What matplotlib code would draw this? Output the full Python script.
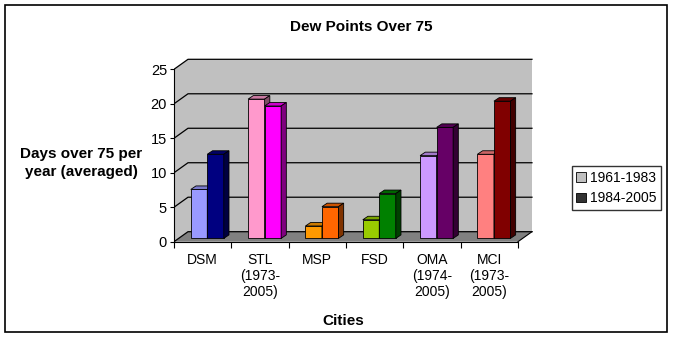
import matplotlib
matplotlib.use("Agg")
import matplotlib.pyplot as plt
from matplotlib.patches import Polygon, Rectangle, Patch
import numpy as np

plt.rcParams['font.family'] = ['Liberation Sans', 'DejaVu Sans']

# ---- data ----
categories = ["DSM", "STL\n(1973-\n2005)", "MSP", "FSD", "OMA\n(1974-\n2005)", "MCI\n(1973-\n2005)"]
series_names = ["1961-1983", "1984-2005"]
early = [7.1, 20.2, 1.8, 2.7, 12.0, 12.2]
late = [12.2, 19.2, 4.6, 6.5, 16.1, 19.9]
early_colors = ["#9999FF", "#FF99CC", "#FF9900", "#99CC00", "#CC99FF", "#FF8080"]
late_colors = ["#000080", "#FF00FF", "#FF6600", "#008000", "#660066", "#800000"]
yticks = [0, 5, 10, 15, 20, 25]

W, H = 673, 337
fig = plt.figure(figsize=(W / 100, H / 100), dpi=100)
fig.patch.set_facecolor("white")

# outer border
fig.patches.append(Rectangle((5 / W, 1 - 332 / H), 662 / W, 327 / H, transform=fig.transFigure,
                             fill=False, edgecolor="black", lw=1.2))

# axes placement (pixel mapping)
x_left_px, y_zero_px = 174.0, 241.7
px_per_cat, px_per_unit = 57.33, 6.896
xlim = (-0.5, 5.85)
ylim = (0, 27)
ax_l = x_left_px / W
ax_r = (x_left_px + (xlim[1] - xlim[0]) * px_per_cat) / W
ax_b = (H - y_zero_px) / H
ax_t = (H - (y_zero_px - ylim[1] * px_per_unit)) / H
ax = fig.add_axes([ax_l, ax_b, ax_r - ax_l, ax_t - ax_b])
ax.set_xlim(*xlim)
ax.set_ylim(*ylim)
ax.patch.set_visible(False)

n = len(categories)
x0, x1 = -0.5, n - 0.5
DX, DY = 14 / px_per_cat, 10 / px_per_unit
ymax = yticks[-1]

# walls and floor
ax.add_patch(Polygon([(x0, 0), (x0 + DX, DY), (x0 + DX, ymax + DY), (x0, ymax)],
                     closed=True, facecolor="#C0C0C0", edgecolor="none", zorder=1))
ax.add_patch(Polygon([(x0 + DX, DY), (x1 + DX, DY), (x1 + DX, ymax + DY), (x0 + DX, ymax + DY)],
                     closed=True, facecolor="#C0C0C0", edgecolor="none", zorder=1))
ax.add_patch(Polygon([(x0, 0), (x1, 0), (x1 + DX, DY), (x0 + DX, DY)],
                     closed=True, facecolor="#808080", edgecolor="none", zorder=1))
ax.plot([x1, x1 + DX], [0, DY], color="black", lw=0.8, zorder=2)
for v in yticks:
    ax.plot([x0, x0 + DX, x1 + DX], [v, v + DY, v + DY], color="black", lw=0.9, zorder=2)

# bars
f = 0.33
bw = 0.288
bdx, bdy = 5.2 / px_per_cat, 3.5 / px_per_unit
xs = np.arange(n)


def shade(c, k):
    r, g, b = matplotlib.colors.to_rgb(c)
    return (r * k, g * k, b * k)


def draw_series(xpos, vals, cols, z):
    base = f * DY
    bars = ax.bar(xpos, vals, width=bw, bottom=base, color=cols, edgecolor="black",
                  linewidth=0.6, zorder=z)
    for rect, c in zip(bars, cols):
        xl = rect.get_x()
        xr = xl + rect.get_width()
        top = rect.get_y() + rect.get_height()
        ax.add_patch(Polygon([(xl, top), (xr, top), (xr + bdx, top + bdy), (xl + bdx, top + bdy)],
                             closed=True, facecolor=shade(c, 0.8), edgecolor="black", lw=0.6, zorder=z))
        ax.add_patch(Polygon([(xr, base), (xr + bdx, base + bdy), (xr + bdx, top + bdy), (xr, top)],
                             closed=True, facecolor=shade(c, 0.5), edgecolor="black", lw=0.6, zorder=z))


draw_series(xs + f * DX - bw / 2, early, early_colors, 3)
draw_series(xs + f * DX + bw / 2, late, late_colors, 4)

# axes styling
for s in ["top", "right"]:
    ax.spines[s].set_visible(False)
ax.spines["left"].set_bounds(0, ymax)
ax.spines["bottom"].set_bounds(x0, x1)
ax.spines["left"].set_zorder(6)
ax.spines["bottom"].set_zorder(6)
ax.set_yticks(yticks)
ax.set_yticklabels([str(v) for v in yticks])
ax.tick_params(axis="y", length=3, width=0.8, pad=2, labelsize=10.5)
ax.set_xticks(np.arange(n + 1) - 0.5)
ax.set_xticklabels([])
ax.tick_params(axis="x", which="major", length=4, width=0.8)
ax.set_xticks(xs, minor=True)
ax.set_xticklabels(categories, minor=True)
ax.tick_params(axis="x", which="minor", length=0, pad=8, labelsize=10)
for lbl in ax.get_xticklabels(minor=True):
    lbl.set_linespacing(1.2)
    lbl.set_verticalalignment("top")

# texts
fig.text(361 / W, 1 - 27 / H, "Dew Points Over 75", ha="center", va="center",
         fontsize=11, fontweight="bold")
fig.text(81 / W, 1 - 163 / H, "Days over 75 per\nyear (averaged)", ha="center", va="center",
         fontsize=11, fontweight="bold", linespacing=1.35)
fig.text(343 / W, 1 - 321 / H, "Cities", ha="center", va="center", fontsize=11, fontweight="bold")

handles = [Patch(facecolor="#C0C0C0", edgecolor="black", lw=0.6),
           Patch(facecolor="#333333", edgecolor="black", lw=0.6)]
leg = fig.legend(handles, series_names, loc="center left",
                 bbox_to_anchor=(572 / W, 1 - 188 / H), fontsize=10,
                 frameon=True, fancybox=False, handlelength=0.7, handleheight=0.7,
                 handletextpad=0.3, borderpad=0.3, labelspacing=0.5, borderaxespad=0)
leg.get_frame().set_edgecolor("black")
leg.get_frame().set_linewidth(1.0)

fig.savefig("out.png", dpi=100)
